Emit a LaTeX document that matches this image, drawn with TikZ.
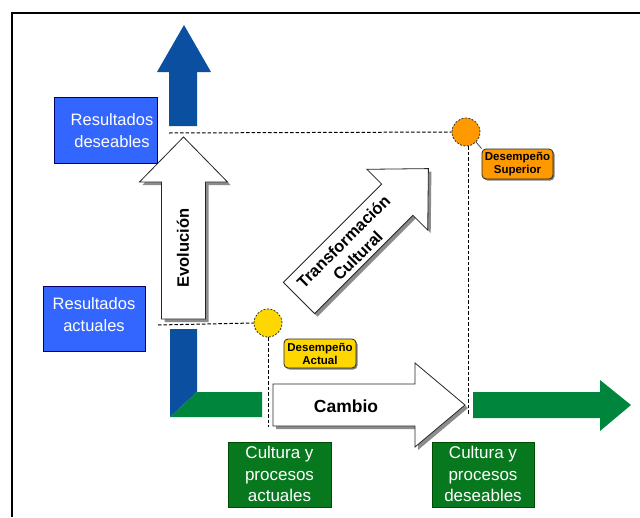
\documentclass[tikz,border=0pt]{standalone}
\usepackage{fontspec}
\setmainfont{Liberation Sans}
\usetikzlibrary{shadows}
\definecolor{darkblue}{HTML}{0B50A0}
\definecolor{boxblue}{HTML}{3366FF}
\definecolor{bargreen}{HTML}{00863C}
\definecolor{boxgreen}{HTML}{08781E}
\definecolor{goldc}{HTML}{FFD700}
\definecolor{orangec}{HTML}{FF9900}
\begin{document}
\begin{tikzpicture}[x=1pt,y=-1pt,
  blockarrow/.style={draw=black!85, line width=0.8pt, fill=white,
    drop shadow={shadow xshift=3pt, shadow yshift=-3pt, fill=black!45, opacity=1}},
  guide/.style={draw=black, line width=1pt, dash pattern=on 3.5pt off 2pt},
  bluebox/.style={draw=black!60!blue, line width=0.6pt, fill=boxblue, inner sep=0pt},
  greenbox/.style={draw=black!70!green, line width=0.6pt, fill=boxgreen, inner sep=0pt},
  boxtext/.style={text=white, align=center, inner sep=0pt, font=\fontsize{16.5}{22}\selectfont},
  perfbox/.style={draw=black!85, line width=0.8pt, rounded corners=4pt, inner sep=0pt,
    align=center, font=\fontsize{11.5}{13}\selectfont\bfseries,
    drop shadow={shadow xshift=1.5pt, shadow yshift=-1.5pt, fill=black!50, opacity=1}},
  dot/.style={circle, draw=black!80, line width=0.8pt, dash pattern=on 2pt off 1.5pt,
    minimum size=28pt, inner sep=0pt},
  arrowtext/.style={font=\fontsize{16.5}{20}\selectfont\bfseries, align=center, inner sep=0pt}
]
\useasboundingbox (0,0) rectangle (640,517);
\fill[white] (0,0) rectangle (640,517);
% frame
\draw[line width=2pt] (12,517) -- (12,13) -- (640,13);

% blue upper arrow
\fill[darkblue] (169,126) -- (169,72) -- (157,72) -- (184,25) -- (211,72) -- (197,72) -- (197,126) -- cycle;
% L shape
\fill[darkblue] (170,329) -- (170,417) -- (197,392) -- (197,329) -- cycle;
\fill[bargreen] (170,417) -- (262,417) -- (262,392) -- (197,392) -- cycle;
% green right arrow
\fill[bargreen] (473,392) -- (600,392) -- (600,380) -- (631,405) -- (600,431) -- (600,418) -- (473,418) -- cycle;

% circles
\node[dot, fill=goldc] (act) at (268,323) {};
\node[dot, fill=orangec] (sup) at (466,132) {};
\coordinate (hs) at (169,133);
\coordinate (ls) at (158,325);
\coordinate (ve) at (268,427);
\coordinate (ve2) at (468,415);

% guides
\draw[guide] (hs) -- (sup.west);
\draw[guide] (ls) -- (act.west);
\draw[guide] (act.south) -- (ve);
\draw[guide] (sup.south -| ve2) -- (ve2);

% white block arrows
\path[blockarrow] (161.5,319) -- (161.5,182) -- (139.5,182) -- (183.5,137) -- (227.5,182) -- (205.5,182) -- (205.5,319) -- cycle;
\path[blockarrow] (283.4,282.4) -- (381.7,184.1) -- (366.9,169.3) -- (428.4,168.6) -- (427.7,230.1) -- (412.9,215.3) -- (314.6,313.6) -- cycle;
\path[blockarrow] (273,384) -- (415,384) -- (415,363) -- (465,405) -- (415,447) -- (415,426) -- (273,426) -- cycle;

\node[arrowtext, rotate=90] (evo) at (183,248) {Evolución};
\node[arrowtext, rotate=45] (tra) at (350.5,248.5) {Transformación\\Cultural};
\node[arrowtext, font=\fontsize{17.5}{20}\selectfont\bfseries] (cam) at (346,406) {Cambio};

% performance boxes
\node[perfbox, fill=orangec, minimum width=71pt, minimum height=30pt] (dsup) at (517.5,164) {Desempeño\\Superior};
\draw[black!70, line width=0.8pt] (sup.south east) -- (dsup.north west);
\node[perfbox, fill=goldc, minimum width=72pt, minimum height=29pt] (dact) at (320,353.5) {Desempeño\\Actual};

% blue boxes
\node[bluebox, minimum width=103pt, minimum height=66pt] (rd) at (105.5,130) {};
\node[boxtext] (rdt) at (112,130.5) {Resultados\\deseables};
\node[bluebox, minimum width=102pt, minimum height=65pt] (ra) at (94,318.5) {};
\node[boxtext] (rat) at (94,315) {Resultados\\actuales};

% green boxes
\node[greenbox, minimum width=103pt, minimum height=65pt] (ga) at (279.5,474.5) {};
\node[boxtext, font=\fontsize{17}{21.7}\selectfont] (gat) at (279.5,474) {Cultura y\\procesos\\actuales};
\node[greenbox, minimum width=102pt, minimum height=65pt] (gd) at (483,474.5) {};
\node[boxtext, font=\fontsize{17}{21.7}\selectfont] (gdt) at (483,474) {Cultura y\\procesos\\deseables};
\end{tikzpicture}
\end{document}
